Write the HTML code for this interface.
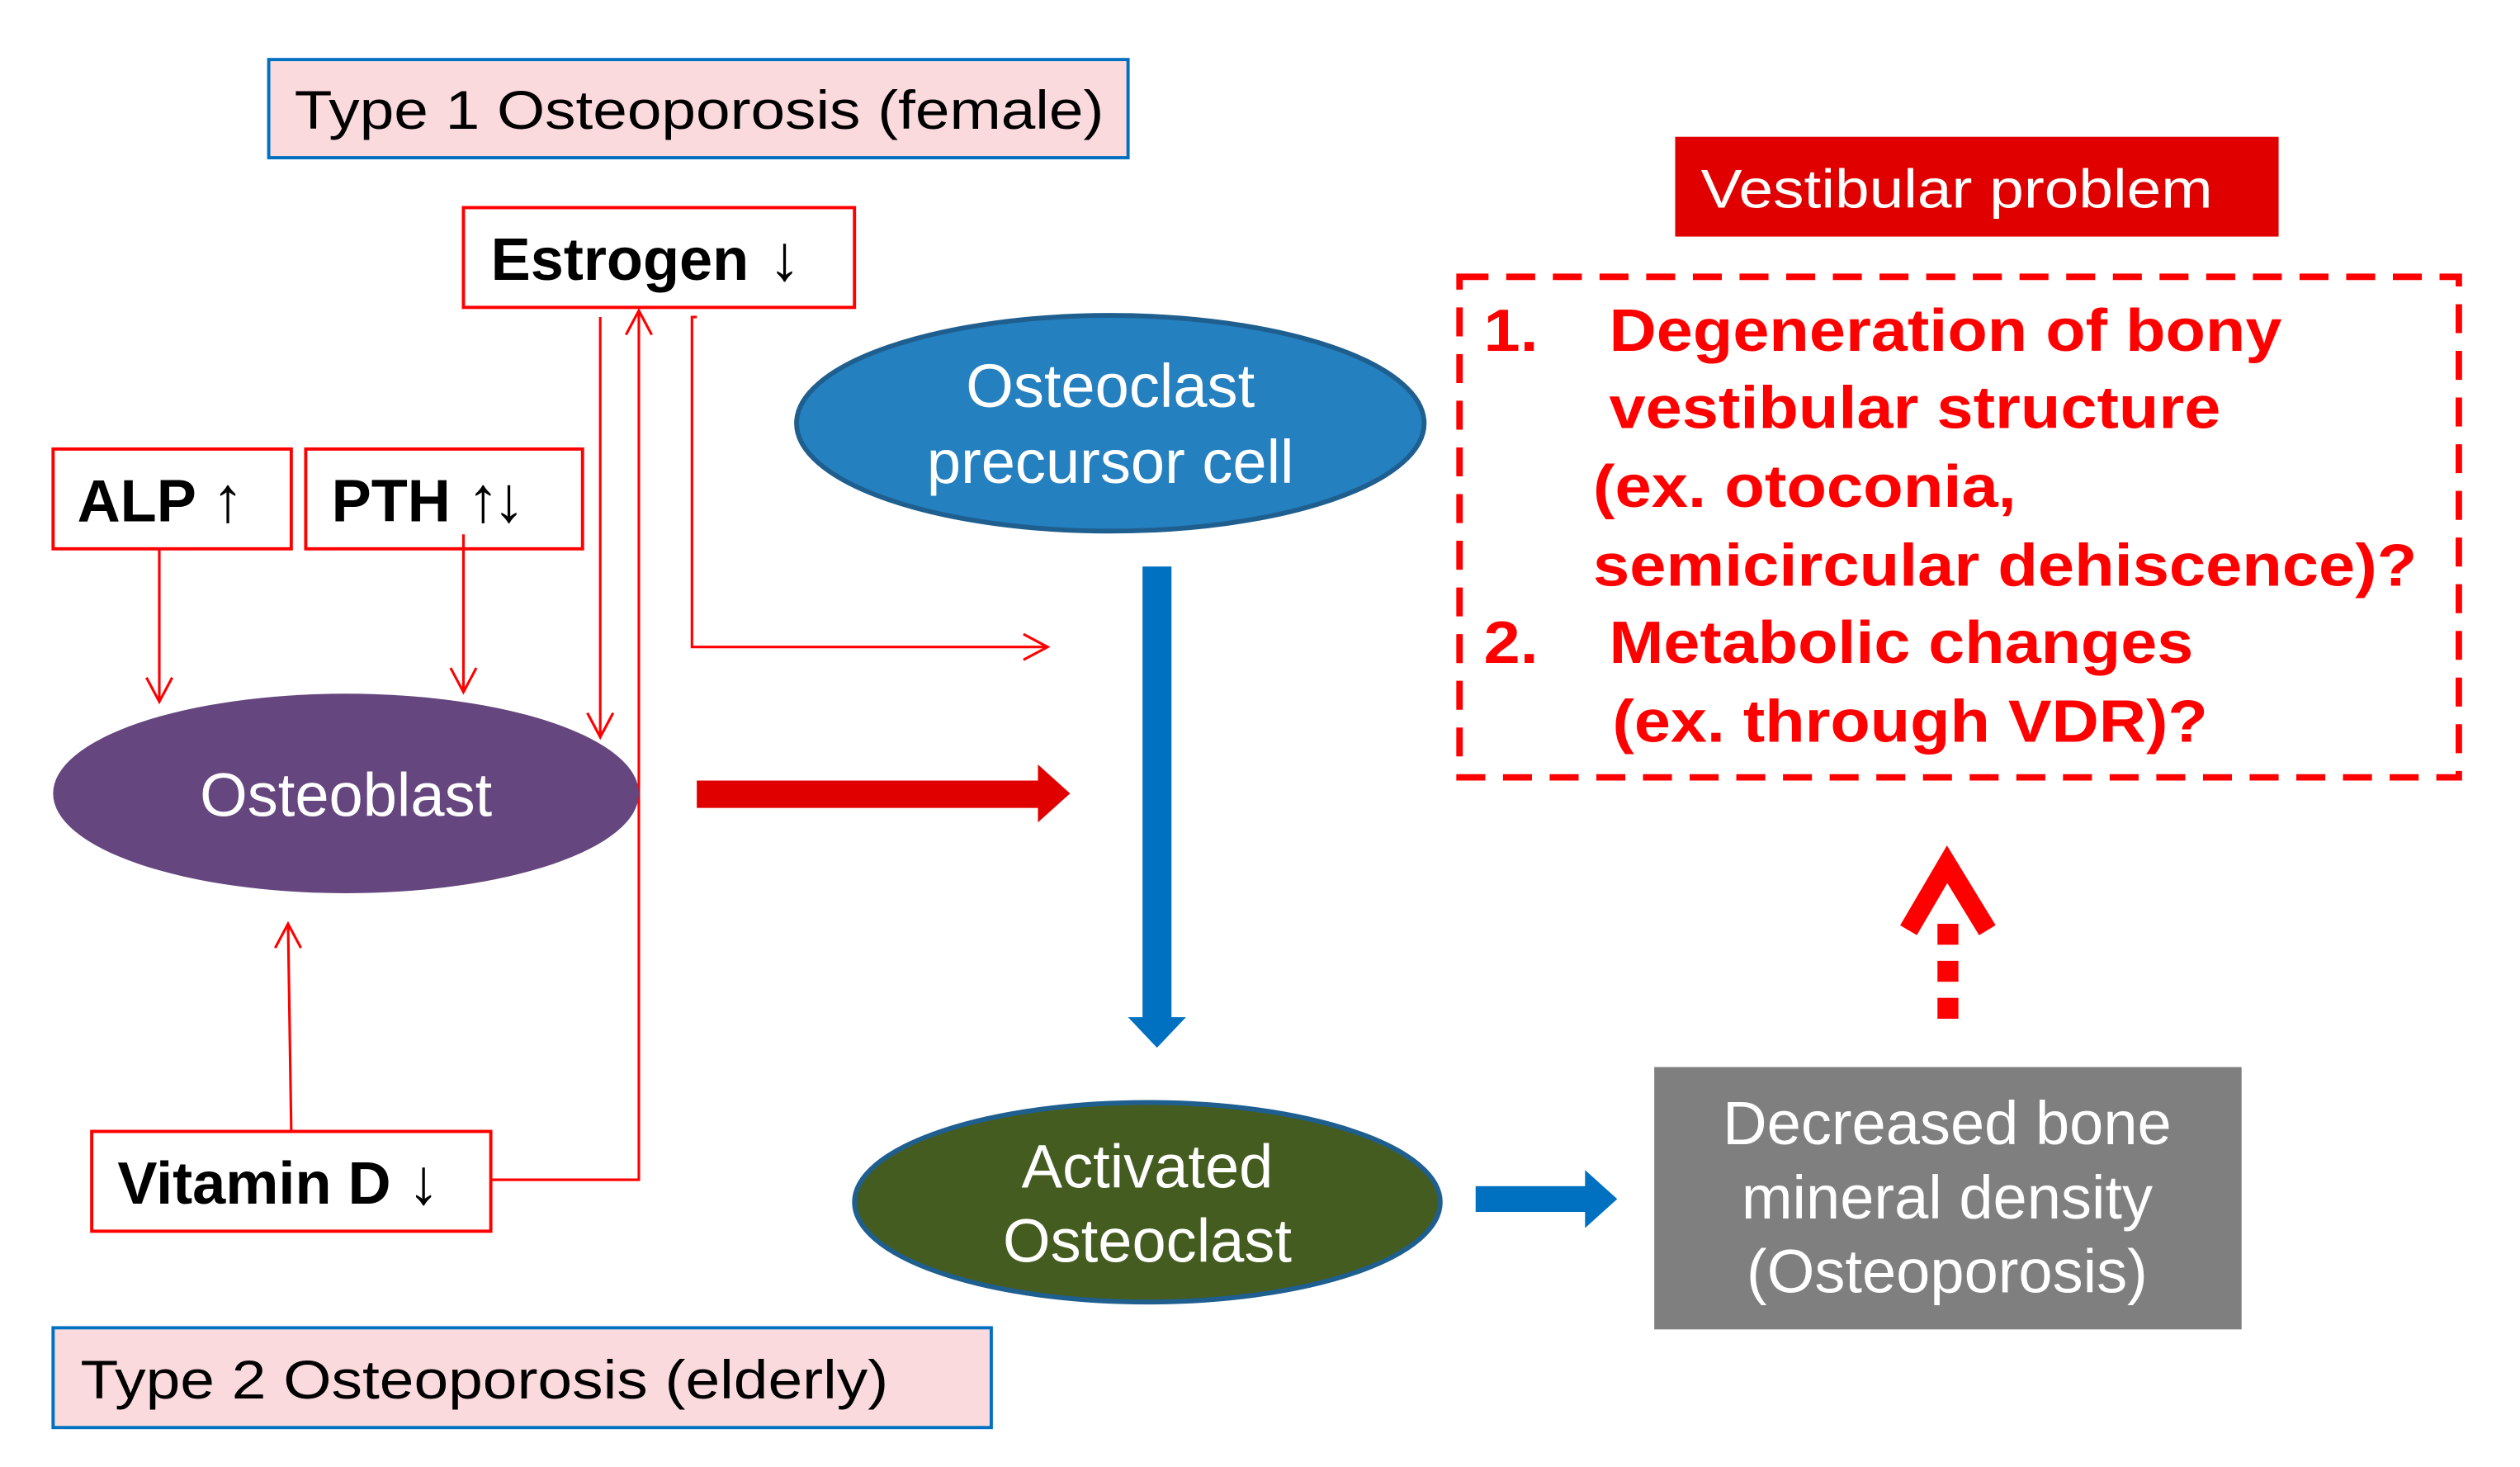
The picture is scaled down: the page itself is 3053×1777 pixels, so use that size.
<!DOCTYPE html>
<html><head><meta charset="utf-8"><style>
html,body{margin:0;padding:0;background:#fff;}
svg{display:block;}
text{font-family:"Liberation Sans",Arial,sans-serif;}
.ar{font-family:"Liberation Sans",sans-serif;font-weight:normal;font-size:40px;}
</style></head><body>
<svg width="3053" height="1777" viewBox="0 0 1566 911.5" preserveAspectRatio="none" xmlns="http://www.w3.org/2000/svg">
<rect width="1566" height="912" fill="#fff"/>
<rect x="167" y="37" width="534" height="61" fill="#fadadd" stroke="#0070c0" stroke-width="2"/>
<text x="183" y="80" font-size="34" textLength="503" lengthAdjust="spacingAndGlyphs">Type 1 Osteoporosis (female)</text>
<rect x="288" y="129" width="243" height="62" fill="#fff" stroke="#f00" stroke-width="2"/>
<text x="305" y="174" font-size="37" font-weight="bold">Estrogen <tspan class="ar" dx="2">↓</tspan></text>
<rect x="33" y="279" width="148" height="62" fill="#fff" stroke="#f00" stroke-width="2"/>
<text x="48" y="324" font-size="37" font-weight="bold">ALP <tspan class="ar" dx="0">↑</tspan></text>
<rect x="190" y="279" width="172" height="62" fill="#fff" stroke="#f00" stroke-width="2"/>
<text x="206" y="324" font-size="37" font-weight="bold">PTH <tspan class="ar" dx="0">↑</tspan><tspan class="ar" dx="-4">↓</tspan></text>
<g stroke="#f00" stroke-width="1.6" fill="none">
<line x1="99" y1="341" x2="99" y2="436"/><polyline points="91,421 99,436 107,421"/>
<line x1="288" y1="332" x2="288" y2="430"/><polyline points="280,415 288,430 296,415"/>
<line x1="373" y1="197" x2="373" y2="458"/><polyline points="365,443 373,458 381,443"/>
<polyline points="305,733 397,733 397,193"/><polyline points="389,208 397,193 405,208"/>
<polyline points="433,197 430,197 430,402 651,402"/><polyline points="636,394 651,402 636,410"/>
<line x1="181" y1="703" x2="179" y2="574"/><polyline points="171,589 179,574 187,589"/>
</g>
<ellipse cx="215" cy="493" rx="182" ry="62" fill="#65467e"/>
<text x="215" y="507" font-size="38" fill="#fff" text-anchor="middle">Osteoblast</text>
<rect x="57" y="703" width="248" height="62" fill="#fff" stroke="#f00" stroke-width="2"/>
<text x="73" y="748" font-size="37" font-weight="bold">Vitamin D <tspan class="ar" dx="0">↓</tspan></text>
<rect x="433" y="485" width="214" height="17" fill="#e00000"/>
<polygon points="645,475 665,493 645,511" fill="#e00000"/>
<ellipse cx="690" cy="263" rx="195" ry="67" fill="#2580c0" stroke="#1f5f8f" stroke-width="3"/>
<text x="690" y="253" font-size="38" fill="#fff" text-anchor="middle">Osteoclast</text>
<text x="690" y="300" font-size="38" fill="#fff" text-anchor="middle">precursor cell</text>
<rect x="710" y="352" width="18" height="282" fill="#0070c0"/>
<polygon points="701,632 737,632 719,651" fill="#0070c0"/>
<ellipse cx="713" cy="747" rx="182" ry="62" fill="#445c20" stroke="#1f5f8f" stroke-width="3"/>
<text x="713" y="738" font-size="38" fill="#fff" text-anchor="middle">Activated</text>
<text x="713" y="784" font-size="38" fill="#fff" text-anchor="middle">Osteoclast</text>
<rect x="917" y="737" width="70" height="16" fill="#0070c0"/>
<polygon points="985,727 1005,745 985,763" fill="#0070c0"/>
<rect x="1028" y="663" width="365" height="163" fill="#7f7f7f"/>
<text x="1210" y="711" font-size="38" fill="#fff" text-anchor="middle">Decreased bone</text>
<text x="1210" y="757" font-size="38" fill="#fff" text-anchor="middle">mineral density</text>
<text x="1210" y="803" font-size="38" fill="#fff" text-anchor="middle">(Osteoporosis)</text>
<rect x="1041" y="85" width="375" height="62" fill="#e00000"/>
<text x="1057" y="129" font-size="34" fill="#fff" textLength="318" lengthAdjust="spacingAndGlyphs">Vestibular problem</text>
<rect x="907" y="172" width="621" height="311" fill="none" stroke="#f00" stroke-width="4" stroke-dasharray="18,11"/>
<g fill="#f00" font-size="37" font-weight="bold">
<text x="922" y="218" textLength="34" lengthAdjust="spacingAndGlyphs">1.</text>
<text x="1000" y="218" textLength="418" lengthAdjust="spacingAndGlyphs">Degeneration of bony</text>
<text x="1000" y="266" textLength="380" lengthAdjust="spacingAndGlyphs">vestibular structure</text>
<text x="990" y="315" textLength="263" lengthAdjust="spacingAndGlyphs">(ex. otoconia,</text>
<text x="990" y="364" textLength="512" lengthAdjust="spacingAndGlyphs">semicircular dehiscence)?</text>
<text x="922" y="412" textLength="34" lengthAdjust="spacingAndGlyphs">2.</text>
<text x="1000" y="412" textLength="363" lengthAdjust="spacingAndGlyphs">Metabolic changes</text>
<text x="1002" y="461" textLength="370" lengthAdjust="spacingAndGlyphs">(ex. through VDR)?</text>
</g>
<g fill="#f00">
<rect x="1204" y="620" width="13" height="13"/>
<rect x="1204" y="597" width="13" height="13"/>
<rect x="1204" y="574" width="13" height="13"/>
</g>
<polyline points="1186,578 1210,537 1235,578" fill="none" stroke="#f00" stroke-width="12" stroke-linejoin="miter"/>
<rect x="33" y="825" width="583" height="62" fill="#fadadd" stroke="#0070c0" stroke-width="2"/>
<text x="50" y="869" font-size="34" textLength="502" lengthAdjust="spacingAndGlyphs">Type 2 Osteoporosis (elderly)</text>
</svg>
</body></html>
